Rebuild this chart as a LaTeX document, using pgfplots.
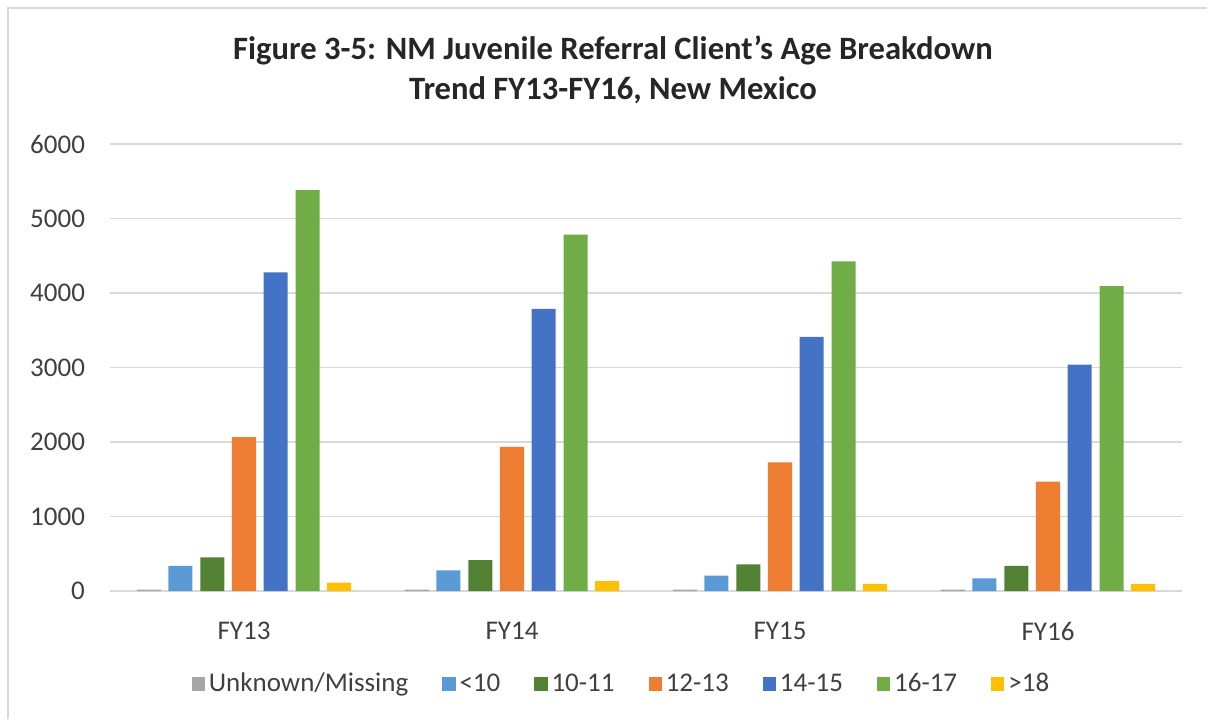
\documentclass[border=0pt]{standalone}
\usepackage{fontspec}
\setmainfont{Carlito}
\usepackage{pgfplots}
\pgfplotsset{compat=1.18}
\definecolor{cunk}{HTML}{A5A5A5}
\definecolor{cltb}{HTML}{5B9BD5}
\definecolor{cdkg}{HTML}{548235}
\definecolor{corg}{HTML}{ED7D31}
\definecolor{cblu}{HTML}{4472C4}
\definecolor{cgrn}{HTML}{70AD47}
\definecolor{cgld}{HTML}{FFC000}
\definecolor{gridc}{HTML}{D9D9D9}
\definecolor{txtc}{HTML}{404040}
\begin{document}
\begin{tikzpicture}
\path[use as bounding box] (0,0) rectangle (603.5pt,359.5pt);
\draw[gridc, line width=0.8pt] (4pt,0pt) -- (4pt,355.5pt) -- (603.5pt,355.5pt);
\node[font=\fontsize{16.3}{19}\selectfont\bfseries, text=black!85] at (306.5pt,334.5pt) {Figure 3-5: NM Juvenile Referral Client's Age Breakdown};
\node[font=\fontsize{16.3}{19}\selectfont\bfseries, text=black!85] at (306.5pt,314.5pt) {Trend FY13-FY16, New Mexico};
\begin{axis}[
  at={(55pt,64pt)}, anchor=south west,
  scale only axis, width=536pt, height=223.5pt,
  xmin=-0.5, xmax=3.5, ymin=0, ymax=6000,
  ytick={0,1000,2000,3000,4000,5000,6000},
  xtick={0,1,2,3}, xticklabels={FY13,FY14,FY15,FY16},
  axis line style={draw=none},
  ymajorgrids, grid style={gridc, line width=0.8pt},
  major tick length=0pt,
  tick label style={font=\fontsize{13.5}{16}\selectfont, text=txtc},
  /pgf/number format/assume math mode=true,
  /pgf/number format/1000 sep={},
  scaled y ticks=false,
  xticklabel style={yshift=-12pt},
  yticklabel style={xshift=-9pt},
  ybar, bar width=0.0896,
  legend columns=7,
  legend style={draw=none, fill=none, at={(0.478,-0.208)}, anchor=center,
    font=\fontsize{13.5}{16}\selectfont, text=txtc,
    /tikz/every even column/.append style={column sep=15pt}},
  sq/.style={draw=none, fill=#1, legend image code/.code={\fill[#1] (-2pt,-3.3pt) rectangle (4.6pt,3.3pt);}},
]
\addplot[sq=cunk, bar shift=-0.355] coordinates {(0,20) (1,20) (2,20) (3,20)};
\addlegendentry{Unknown/Missing}
\addplot[sq=cltb, bar shift=-0.237] coordinates {(0,336) (1,278) (2,206) (3,170)};
\addlegendentry{<10}
\addplot[sq=cdkg, bar shift=-0.118] coordinates {(0,452) (1,416) (2,358) (3,336)};
\addlegendentry{10-11}
\addplot[sq=corg, bar shift=0] coordinates {(0,2064) (1,1934) (2,1728) (3,1468)};
\addlegendentry{12-13}
\addplot[sq=cblu, bar shift=0.118] coordinates {(0,4276) (1,3788) (2,3412) (3,3040)};
\addlegendentry{14-15}
\addplot[sq=cgrn, bar shift=0.237] coordinates {(0,5382) (1,4782) (2,4423) (3,4092)};
\addlegendentry{16-17}
\addplot[sq=cgld, bar shift=0.355] coordinates {(0,112) (1,134) (2,94) (3,94)};
\addlegendentry{>18}
\end{axis}
\end{tikzpicture}
\end{document}
